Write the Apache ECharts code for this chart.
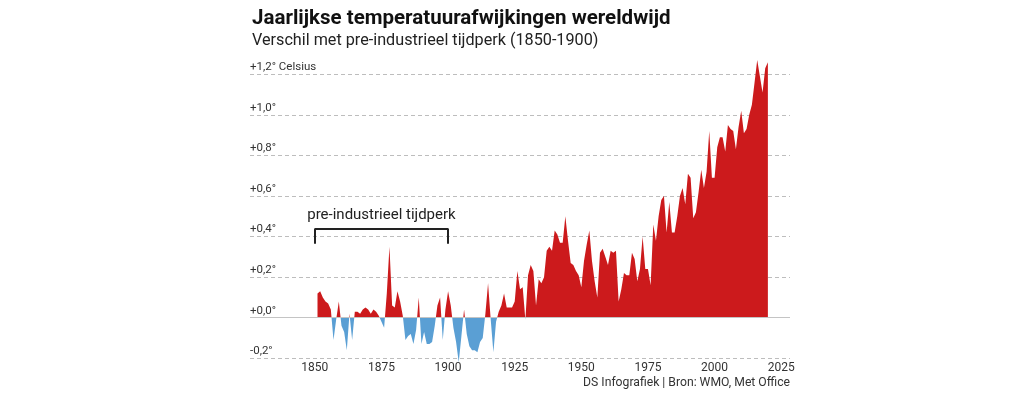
<!DOCTYPE html>
<html>
<head>
<meta charset="utf-8">
<script src="https://cdn.jsdelivr.net/npm/echarts@6/dist/echarts.min.js"></script>
<style>
  body { margin: 0; background: #fff; }
  #chart { width: 1019px; height: 396px; }
</style>
</head>
<body>
<div id="chart"></div>
<script>
// jaarlijkse afwijking t.o.v. 1850-1900
const firstYear = 1851;
const anomalies = [
  0.12, 0.13, 0.10, 0.08, 0.07, 0.04, -0.11, -0.01, 0.08, -0.04,   // 1851-1860
  -0.07, -0.16, 0.02, -0.11, 0.03, 0.03, 0.02, 0.04, 0.05, 0.04,   // 1861-1870
  0.02, 0.04, 0.03, 0.01, -0.02, -0.05, 0.12, 0.35, 0.06, 0.05,    // 1871-1880
  0.13, 0.08, 0.01, -0.11, -0.09, -0.08, -0.13, -0.06, 0.10, -0.13, // 1881-1890
  -0.07, -0.13, -0.13, -0.12, -0.04, 0.06, 0.10, -0.11, 0.04, 0.13, // 1891-1900
  0.06, -0.05, -0.12, -0.22, -0.09, 0.04, -0.08, -0.14, -0.16, -0.16, // 1901-1910
  -0.17, -0.12, -0.10, 0.02, 0.17, -0.01, -0.17, -0.02, 0.03, 0.06, // 1911-1920
  0.12, 0.05, 0.05, 0.05, 0.08, 0.23, 0.14, 0.15, -0.01, 0.21,     // 1921-1930
  0.26, 0.23, 0.06, 0.19, 0.17, 0.20, 0.33, 0.35, 0.33, 0.43,      // 1931-1940
  0.41, 0.37, 0.37, 0.50, 0.38, 0.27, 0.26, 0.23, 0.21, 0.15,      // 1941-1950
  0.28, 0.36, 0.43, 0.28, 0.18, 0.10, 0.32, 0.34, 0.30, 0.26,      // 1951-1960
  0.33, 0.32, 0.33, 0.08, 0.14, 0.22, 0.21, 0.21, 0.32, 0.29,      // 1961-1970
  0.18, 0.24, 0.40, 0.24, 0.24, 0.16, 0.46, 0.38, 0.50, 0.58,      // 1971-1980
  0.60, 0.42, 0.57, 0.42, 0.42, 0.50, 0.60, 0.64, 0.56, 0.71,      // 1981-1990
  0.69, 0.49, 0.52, 0.62, 0.73, 0.64, 0.72, 0.92, 0.69, 0.69,      // 1991-2000
  0.84, 0.89, 0.89, 0.82, 0.95, 0.93, 0.92, 0.83, 0.94, 1.02,      // 2001-2010
  0.91, 0.93, 1.00, 1.05, 1.16, 1.27, 1.19, 1.11, 1.23, 1.26       // 2011-2020
];
const tickYears = [1850, 1875, 1900, 1925, 1950, 1975, 2000, 2025];
const bracketYears = [1850, 1900];
const bracketLevels = [0.44, 0.365];

const font = 'Roboto';
const red = '#cc1a1c';
const blue = '#5a9fd4';

const chart = echarts.init(document.getElementById('chart'));

const seriesData = anomalies.map((v, i) => [firstYear + i, v]);

function fmtY(v) {
  const r = Math.round(v * 10) / 10;
  let s = (r < 0 ? '-' : '+') + Math.abs(r).toFixed(1).replace('.', ',') + '°';
  if (r === 1.2) s += ' Celsius';
  return s;
}

const option = {
  animation: false,
  title: [
    {
      text: 'Jaarlijkse temperatuurafwijkingen wereldwijd',
      left: 252, top: 8, padding: 0,
      textStyle: {fontFamily: font, fontSize: 20.5, fontWeight: 'bold', color: '#111'}
    },
    {
      text: 'Verschil met pre-industrieel tijdperk (1850-1900)',
      left: 252, top: 33, padding: 0,
      textStyle: {fontFamily: font, fontSize: 16.2, fontWeight: 'normal', color: '#222'}
    },
    {
      text: 'DS Infografiek | Bron: WMO, Met Office',
      right: 229, top: 377, padding: 0,
      textStyle: {fontFamily: font, fontSize: 12.2, fontWeight: 'normal', color: '#333'}
    }
  ],
  grid: {left: 250, right: 229, top: 74.3, bottom: 37.7},
  visualMap: {
    show: false,
    seriesIndex: 0,
    dimension: 1,
    pieces: [
      {gte: -5, lt: 0, color: blue},
      {gte: 0, lte: 5, color: red}
    ]
  },
  xAxis: {
    type: 'value',
    min: 1825.67,
    max: 2028.3,
    axisLine: {show: false},
    axisTick: {show: false},
    splitLine: {show: false},
    axisLabel: {
      customValues: tickYears,
      margin: 4,
      fontFamily: font,
      fontSize: 12,
      color: '#333',
      formatter: v => String(v)
    }
  },
  yAxis: {
    type: 'value',
    min: -0.2,
    max: 1.2,
    interval: 0.2,
    axisLine: {show: false},
    axisTick: {show: false},
    splitLine: {lineStyle: {type: [4, 3], color: '#bdbdbd', width: 1}},
    axisLabel: {
      inside: true,
      margin: 0,
      verticalAlign: 'bottom',
      padding: [0, 0, 1, 0],
      fontFamily: font,
      fontSize: 11.5,
      color: '#333',
      formatter: fmtY
    }
  },
  series: [
    {
      type: 'line',
      data: seriesData,
      symbol: 'none',
      clip: false,
      silent: true,
      lineStyle: {width: 0},
      areaStyle: {opacity: 1}
    },
    {
      type: 'line',
      data: [],
      silent: true,
      markLine: {
        symbol: 'none',
        silent: true,
        animation: false,
        data: [
          {yAxis: 0, lineStyle: {color: '#c4c4c4', type: 'solid', width: 1}, label: {show: false}},
          [
            {
              coord: [bracketYears[0], bracketLevels[0]],
              lineStyle: {color: '#222', type: 'solid', width: 2},
              label: {
                show: true,
                position: 'insideMiddleTop',
                distance: 6,
                formatter: 'pre-industrieel tijdperk',
                fontFamily: font,
                fontSize: 15,
                color: '#222'
              }
            },
            {coord: [bracketYears[1], bracketLevels[0]]}
          ],
          [
            {coord: [bracketYears[0], bracketLevels[0]], lineStyle: {color: '#222', type: 'solid', width: 2}, label: {show: false}},
            {coord: [bracketYears[0], bracketLevels[1]]}
          ],
          [
            {coord: [bracketYears[1], bracketLevels[0]], lineStyle: {color: '#222', type: 'solid', width: 2}, label: {show: false}},
            {coord: [bracketYears[1], bracketLevels[1]]}
          ]
        ]
      }
    }
  ]
};

chart.setOption(option);
</script>
</body>
</html>
